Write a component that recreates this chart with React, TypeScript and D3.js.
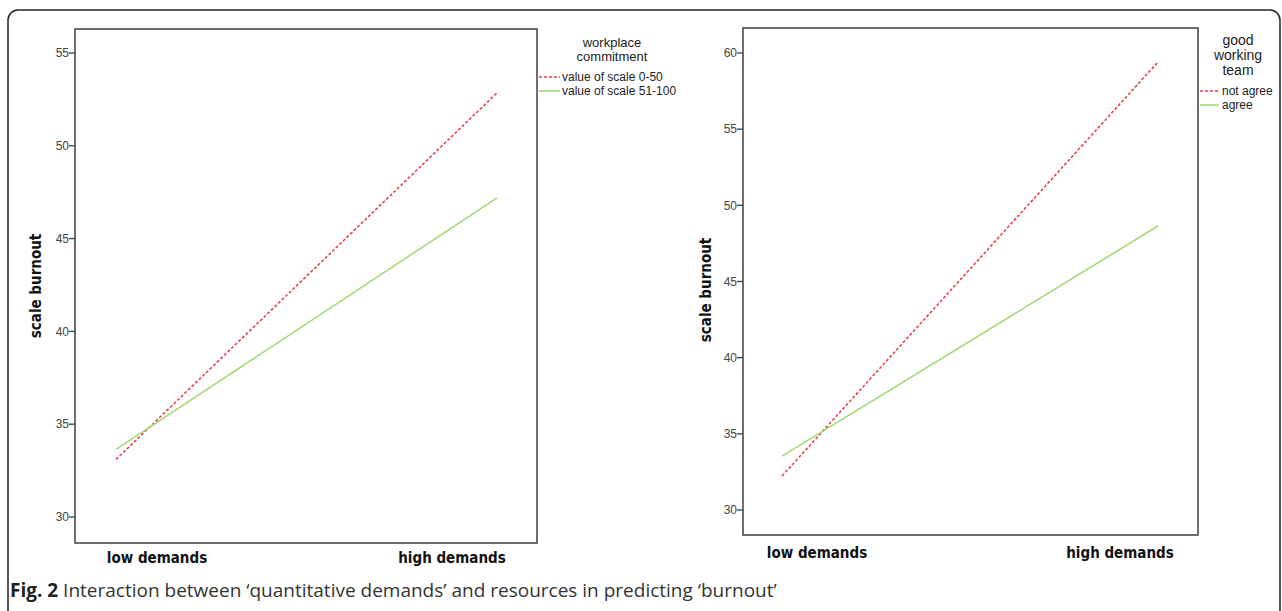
import React from 'react';
import * as d3 from 'd3';

// categories on the x axis
const demandLevels = ['low demands', 'high demands'];

// panel A: workplace commitment
const commitmentGroups = ['value of scale 0-50', 'value of scale 51-100'];
const commitmentLow = [33.1, 33.64];
const commitmentHigh = [52.85, 47.19];
const commitmentTicks = [30, 35, 40, 45, 50, 55];

// panel B: good working team
const teamGroups = ['not agree', 'agree'];
const teamLow = [32.23, 33.54];
const teamHigh = [59.41, 48.64];
const teamTicks = [30, 35, 40, 45, 50, 55, 60];

const RED = '#e8424b';
const GREEN = '#a3d977';
const AXIS = '#4a4a4a';

interface PanelProps {
  frame: { x0: number; x1: number; y0: number; y1: number };
  domain: [number, number];
  ticks: number[];
  lineX: [number, number];
  labelX: [number, number];
  labelY: number;
  yLabel: { x: number; y: number };
  groups: string[];
  low: number[];
  high: number[];
  title: string[];
  legend: { cx: number; titleY: number; titleSize: number; itemY: number; lineX0: number; lineX1: number; textX: number };
}

const Panel: React.FC<PanelProps> = (p) => {
  const y = d3.scaleLinear().domain(p.domain).range([p.frame.y1, p.frame.y0]);
  const x = d3.scalePoint<string>().domain(demandLevels).range(p.lineX);
  const xl = d3.scalePoint<string>().domain(demandLevels).range(p.labelX);
  const line = d3.line<[string, number]>()
    .x(d => x(d[0]) as number)
    .y(d => y(d[1]));
  const colors = [RED, GREEN];
  const dashes = ['3,2', undefined];

  return (
    <g>
      <rect x={p.frame.x0} y={p.frame.y0} width={p.frame.x1 - p.frame.x0} height={p.frame.y1 - p.frame.y0}
        fill="none" stroke={AXIS} strokeWidth={1.6} />
      {p.ticks.map(t => (
        <g key={t}>
          <line x1={p.frame.x0 - 6} x2={p.frame.x0} y1={y(t)} y2={y(t)} stroke={AXIS} strokeWidth={1.4} />
          <text x={p.frame.x0 - 6} y={y(t)} dy="0.35em" textAnchor="end" fontSize={12}
            fontFamily="Liberation Sans, Arial, sans-serif" fill="#444">{t}</text>
        </g>
      ))}
      {demandLevels.map(c => (
        <text key={c} x={xl(c)} y={p.labelY} textAnchor="middle" fontSize={15} fontWeight="bold"
          fontFamily="DejaVu Sans Condensed, DejaVu Sans, sans-serif" fill="#111" dy="0.35em">{c}</text>
      ))}
      <text transform={`translate(${p.yLabel.x},${p.yLabel.y}) rotate(-90)`} textAnchor="middle" dy="0.35em"
        fontSize={15} fontWeight="bold" fontFamily="DejaVu Sans Condensed, DejaVu Sans, sans-serif" fill="#111">
        scale burnout
      </text>
      {p.groups.map((g, i) => (
        <path key={g} d={line([[demandLevels[0], p.low[i]], [demandLevels[1], p.high[i]]]) || ''}
          fill="none" stroke={colors[i]} strokeWidth={1.6} strokeDasharray={dashes[i]} />
      ))}
      {p.title.map((t, i) => (
        <text key={t} x={p.legend.cx} y={p.legend.titleY + i * (p.legend.titleSize + 1)} textAnchor="middle" dy="0.35em"
          fontSize={p.legend.titleSize} fontFamily="Liberation Sans, Arial, sans-serif" fill="#222">{t}</text>
      ))}
      {p.groups.map((g, i) => (
        <g key={g}>
          <line x1={p.legend.lineX0} x2={p.legend.lineX1} y1={p.legend.itemY + i * 14} y2={p.legend.itemY + i * 14}
            stroke={colors[i]} strokeWidth={1.6} strokeDasharray={dashes[i]} />
          <text x={p.legend.textX} y={p.legend.itemY + i * 14} dy="0.35em" fontSize={12}
            fontFamily="Liberation Sans, Arial, sans-serif" fill="#222">{g}</text>
        </g>
      ))}
    </g>
  );
};

const App: React.FC = () => {
  return (
    <svg width={1282} height={611} style={{ position: 'absolute', left: 0, top: 0, background: '#fff' }}>
      <rect x={8} y={10} width={1272} height={640} rx={10} fill="none" stroke="#222" strokeWidth={1.5} />
      <Panel
        frame={{ x0: 75, x1: 537, y0: 29, y1: 543 }}
        domain={[30 - (543 - 517) / 18.56, 55 + (53 - 29) / 18.56]}
        ticks={commitmentTicks}
        lineX={[116, 497]}
        labelX={[157, 452]}
        labelY={558}
        yLabel={{ x: 36, y: 286 }}
        groups={commitmentGroups}
        low={commitmentLow}
        high={commitmentHigh}
        title={['workplace', 'commitment']}
        legend={{ cx: 612, titleY: 42, titleSize: 13, itemY: 77, lineX0: 539, lineX1: 560, textX: 562 }}
      />
      <Panel
        frame={{ x0: 743, x1: 1198, y0: 28, y1: 535 }}
        domain={[30 - (535 - 510) / 15.23, 60 + (53 - 28) / 15.23]}
        ticks={teamTicks}
        lineX={[782, 1158]}
        labelX={[817, 1120]}
        labelY={553}
        yLabel={{ x: 706, y: 290 }}
        groups={teamGroups}
        low={teamLow}
        high={teamHigh}
        title={['good', 'working', 'team']}
        legend={{ cx: 1238, titleY: 40, titleSize: 14, itemY: 91, lineX0: 1200, lineX1: 1219, textX: 1222 }}
      />
      <text x={10} y={590} dy="0.35em" fontSize={19} fontFamily="Open Sans, sans-serif" fill="#333">
        <tspan fontWeight="bold" fill="#222">Fig. 2</tspan>
        <tspan> Interaction between ‘quantitative demands’ and resources in predicting ‘burnout’</tspan>
      </text>
    </svg>
  );
};

export default App;
